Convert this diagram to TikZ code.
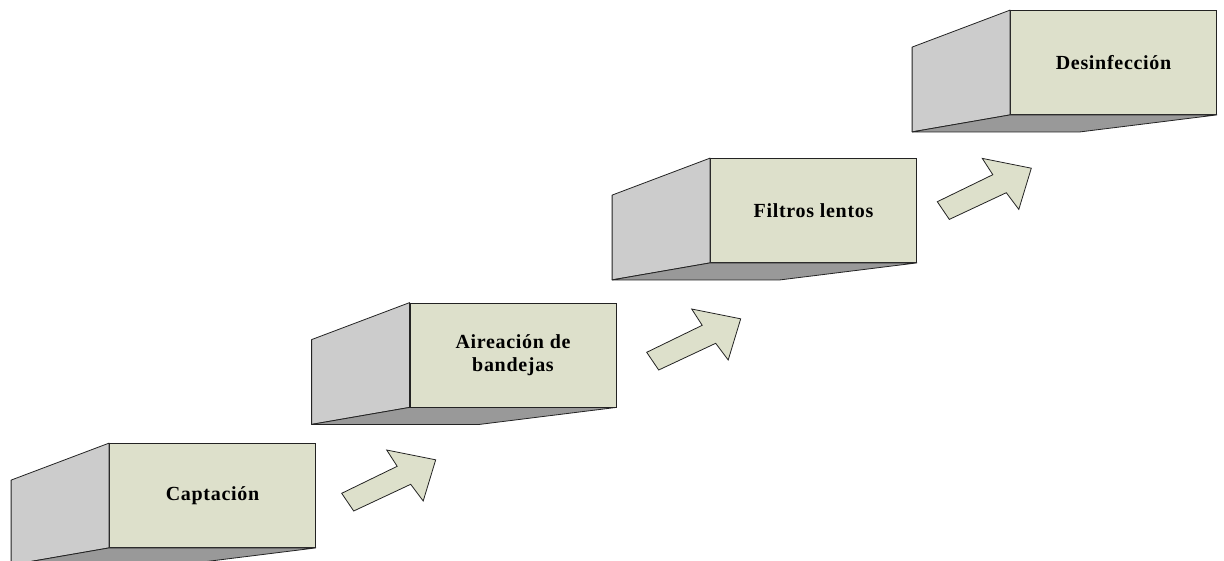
\documentclass[tikz,border=0pt]{standalone}
\usepackage{fontspec}
\setmainfont{Liberation Serif}
\usetikzlibrary{calc}

\definecolor{faceFront}{RGB}{221,224,203}
\definecolor{faceSide}{RGB}{204,204,204}
\definecolor{faceBottom}{RGB}{153,153,153}
\definecolor{edgeGrey}{RGB}{35,35,35}

\tikzset{
  frontface/.style={draw=edgeGrey, fill=faceFront, line width=0.8pt,
    minimum width=206pt, minimum height=104pt, inner sep=0pt, align=center,
    font=\bfseries\fontsize{20}{23}\selectfont\addfontfeature{LetterSpace=3.5}},
  sideface/.style={draw=edgeGrey, fill=faceSide, line width=0.8pt, line join=round},
  bottomface/.style={draw=edgeGrey, fill=faceBottom, line width=0.8pt, line join=round},
  arrowbody/.style={draw=edgeGrey, fill=faceFront, line width=0.8pt, line join=miter},
  pics/flowarrow/.style={code={
    \filldraw[arrowbody] (0,0) -- (12,17.7) -- (69,-9) -- (81.5,7.7)
      -- (94,-33.5) -- (45,-43.3) -- (55.5,-27) -- cycle;
  }}
}

\begin{document}
\begin{tikzpicture}[x=1pt,y=-1pt]
  \useasboundingbox (0,0) rectangle (1224,560);
  \clip (0,0) rectangle (1224,560);

  % front faces of the four process steps
  \node[frontface] (f1) at (212.5,495.5) {Captación};
  \node[frontface] (f2) at (513,355) {Aireación de\\bandejas};
  \node[frontface] (f3) at (813.5,210.5) {Filtros lentos};
  \node[frontface] (f4) at (1113.5,62.5) {Desinfección};

  % extruded side and bottom faces
  \foreach \f in {f1,f2,f3,f4}{
    \filldraw[sideface] (\f.north west) -- ($(\f.north west)+(-98,37)$)
      -- ($(\f.south west)+(-98,17)$) -- (\f.south west) -- cycle;
    \filldraw[bottomface] (\f.south west) -- (\f.south east)
      -- ($(\f.south west)+(70,17)$) -- ($(\f.south west)+(-98,17)$) -- cycle;
  }

  % block arrows between the steps
  \coordinate (a1) at (341.7,493.3);
  \coordinate (a2) at (646.7,352.3);
  \coordinate (a3) at (937.3,201.7);
  \pic at (a1) {flowarrow};
  \pic at (a2) {flowarrow};
  \pic at (a3) {flowarrow};
\end{tikzpicture}
\end{document}
